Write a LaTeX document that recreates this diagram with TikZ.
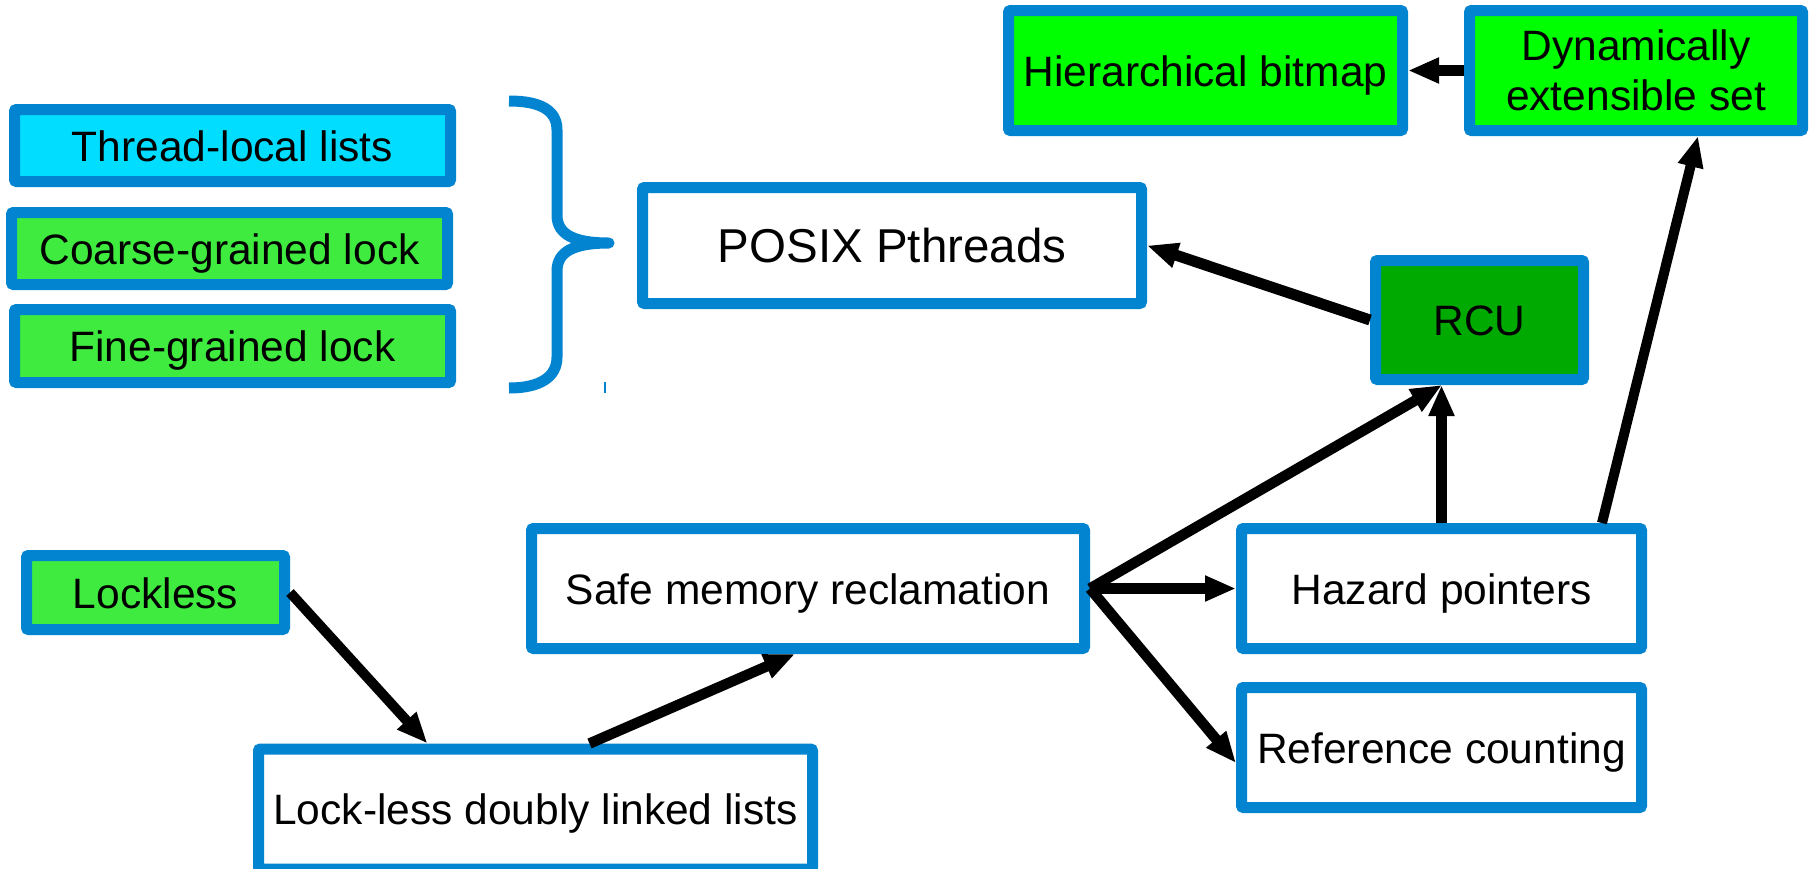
\documentclass[tikz,border=0pt]{standalone}
\usepackage{fontspec}
\setmainfont{Liberation Sans}
\usetikzlibrary{arrows.meta,calc}
\definecolor{bblue}{RGB}{2,132,208}
\definecolor{cyanfill}{RGB}{0,221,255}
\definecolor{lgreen}{RGB}{63,235,63}
\definecolor{bgreen}{RGB}{0,255,0}
\definecolor{dgreen}{RGB}{0,170,0}
\tikzset{
  box/.style={draw=bblue, line width=11pt, rounded corners=2pt, inner sep=0pt,
    font=\fontsize{42.5pt}{49pt}\selectfont, text height=31pt, text depth=0pt},
  multibox/.style={draw=bblue, line width=11pt, rounded corners=2pt, inner sep=0pt,
    font=\fontsize{42.5pt}{50pt}\selectfont, align=center},
  arr/.style={draw=black, line width=#1, -{Triangle[length=31pt,width=24pt]}},
  arr/.default=10pt,
  brace/.style={draw=bblue, line width=11pt, line join=round}
}
\begin{document}
\begin{tikzpicture}[x=1pt,y=-1pt]
\useasboundingbox (0,0) rectangle (1811,868);
% left column
\node[box, fill=cyanfill, minimum width=436pt, minimum height=72pt] (tll) at (232.5,145.5) {Thread-local lists};
\node[box, fill=lgreen, minimum width=436pt, minimum height=72pt] (cgl) at (229.5,248.5) {Coarse-grained lock};
\node[box, fill=lgreen, minimum width=436pt, minimum height=73pt] (fgl) at (232.5,346) {Fine-grained lock};
% brace
\draw[brace] (509,101) .. controls (540,101) and (557,110) .. (557,130) -- (557,215)
  .. controls (557,235) and (575,243) .. (609,243)
  .. controls (575,243) and (557,251) .. (557,271) -- (557,357)
  .. controls (557,377) and (540,388) .. (509,388);
\draw[bblue, line width=1.5pt] (605,382) -- (605,393);
% top
\node[box, fill=white, minimum width=499pt, minimum height=116pt,
  font=\fontsize{47.5pt}{55pt}\selectfont, text height=34.5pt] (posix) at (892,245.5) {POSIX Pthreads};
\node[box, fill=bgreen, minimum width=394pt, minimum height=120pt] (hb) at (1205.5,70.5) {Hierarchical bitmap};
\node[multibox, fill=bgreen, minimum width=333pt, minimum height=120pt] (dyn) at (1636,70.5) {Dynamically\\extensible set};
\node[box, fill=dgreen, minimum width=208pt, minimum height=119pt] (rcu) at (1479.5,320) {RCU};
% bottom
\node[box, fill=lgreen, minimum width=258pt, minimum height=74pt] (lockless) at (155.5,592.5) {Lockless};
\node[box, fill=white, minimum width=553pt, minimum height=120pt] (smr) at (808,588.5) {Safe memory reclamation};
\node[box, fill=white, minimum width=400pt, minimum height=120pt] (hp) at (1441.5,588.5) {Hazard pointers};
\node[box, fill=white, minimum width=400pt, minimum height=120pt] (rc) at (1441.5,747.5) {Reference counting};
\node[box, fill=white, minimum width=554pt, minimum height=120pt] (ldll) at (535.5,809) {Lock-less doubly linked lists};
% arrows
\draw[arr=10.5pt] (dyn.west) -- (hb.east);
\draw[arr=11pt] (rcu.west) -- (posix.east);
\draw[arr=10pt] (lockless.east) -- ([xshift=-108pt]ldll.north);
\draw[arr=10.5pt] ([xshift=54pt]ldll.north) -- ([xshift=-13pt]smr.south);
\draw[arr=11pt] (smr.east) -- (hp.west);
\draw[arr=10.5pt] (smr.east) -- ([xshift=-37.5pt]rcu.south);
\draw[arr=10.5pt] (smr.east) -- ([yshift=-15.5pt]rc.west);
\draw[arr=11pt] (hp.north) -- (hp.north |- rcu.south);
\draw[arr=10pt] ([xshift=160.5pt]hp.north) -- ([xshift=62pt]dyn.south);
\end{tikzpicture}
\end{document}
